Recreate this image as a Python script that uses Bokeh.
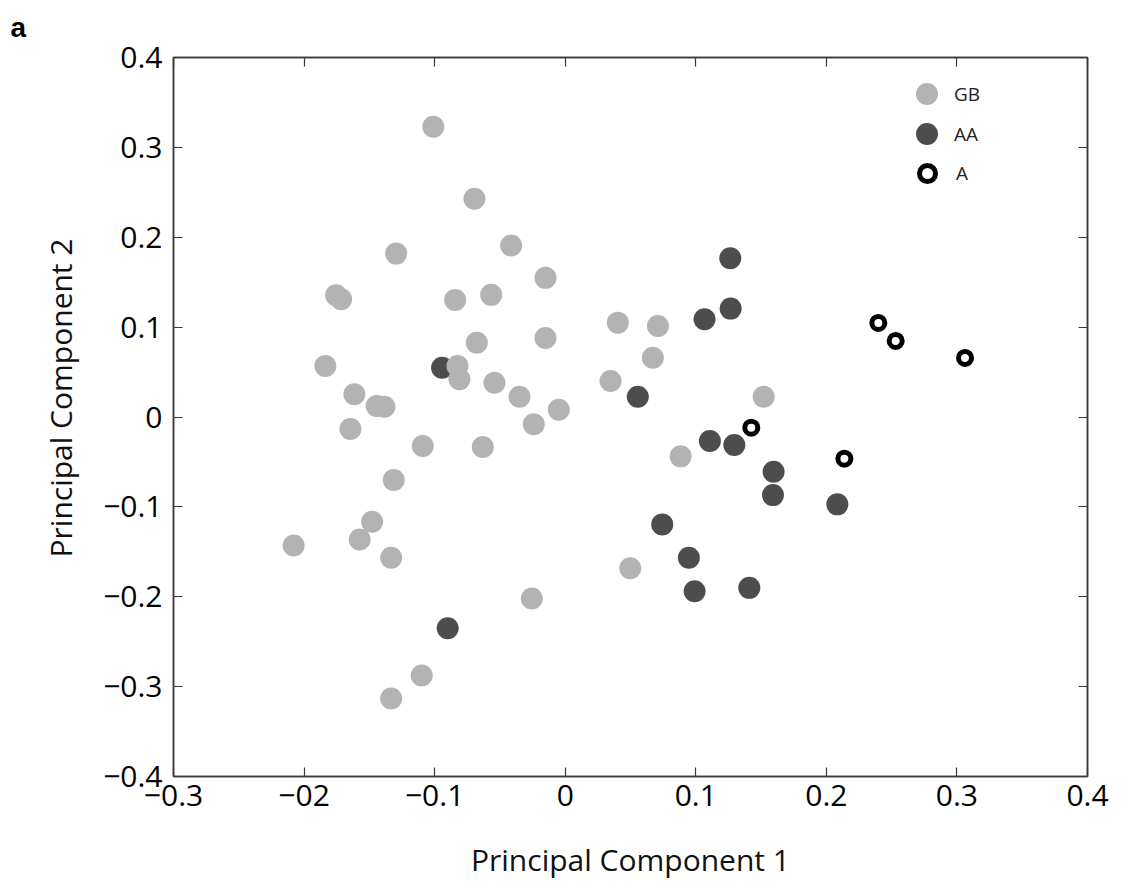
from bokeh.plotting import figure
from bokeh.models import (Range1d, FixedTicker, LinearAxis, Legend, LegendItem, Title,
                          CustomLabelingPolicy)
from bokeh.embed import file_html
from bokeh.resources import INLINE

# ---- data ----
gb_x = [-0.101, -0.0695, -0.1295, -0.1755, -0.1716, -0.0414, -0.0151, -0.0843, -0.0567,
        -0.0151, -0.0677, -0.1837, -0.0825, -0.081, -0.0542, -0.1615, -0.035, -0.1444,
        -0.1385, -0.1645, -0.0049, -0.0241, -0.1091, -0.0631, -0.1313, 0.0403, 0.071,
        0.0671, 0.0347, 0.152, 0.0884, -0.208, -0.1479, -0.1574, -0.1333, -0.0256,
        0.0498, -0.1099, -0.1333]
gb_y = [0.323, 0.2428, 0.1818, 0.1355, 0.1311, 0.1908, 0.1548, 0.1303, 0.1359,
        0.088, 0.0827, 0.0568, 0.0568, 0.042, 0.0382, 0.0253, 0.0226, 0.0122,
        0.0115, -0.0134, 0.0081, -0.0081, -0.0323, -0.0334, -0.0702, 0.105, 0.1013,
        0.066, 0.0401, 0.0226, -0.0438, -0.1429, -0.1166, -0.1362, -0.1567, -0.2019,
        -0.1682, -0.2876, -0.3133]

aa_x = [-0.0943, 0.1264, 0.1067, 0.1267, 0.0556, 0.1108, 0.1295, 0.1596, 0.1591,
        0.2084, 0.0743, 0.0947, 0.0991, 0.141, -0.09]
aa_y = [0.0549, 0.1767, 0.1088, 0.1206, 0.0226, -0.0267, -0.0312, -0.0609, -0.0869,
        -0.0972, -0.1195, -0.1567, -0.1938, -0.1901, -0.235]

a_x = [0.1425, 0.2138, 0.2398, 0.2531, 0.3062]
a_y = [-0.0119, -0.0464, 0.1047, 0.0846, 0.0657]

x_ticks = [-0.3, -0.2, -0.1, 0.0, 0.1, 0.2, 0.3, 0.4]
x_tick_labels = ["\u22120.3", "\u221202", "\u22120.1", "0", "0.1", "0.2", "0.3", "0.4"]
y_ticks = [-0.4, -0.3, -0.2, -0.1, 0.0, 0.1, 0.2, 0.3, 0.4]
y_tick_labels = ["\u22120.4", "\u22120.3", "\u22120.2", "\u22120.1", "0", "0.1", "0.2", "0.3", "0.4"]

series_names = ["GB", "AA", "A"]
x_title = "Principal Component 1"
y_title = "Principal Component  2"
panel_letter = "a"

# ---- styles ----
FONT = "Open Sans"
AX_COLOR = "#3a3a3a"
GB_COLOR = "#b3b3b3"
AA_COLOR = "#4d4d4d"

p = figure(width=1121, height=882, output_backend="svg", toolbar_location=None,
           x_range=Range1d(-0.3, 0.4), y_range=Range1d(-0.4, 0.4),
           min_border_left=173, min_border_right=34, min_border_top=57,
           min_border_bottom=106, x_axis_location=None, y_axis_location=None)
p.grid.visible = False
p.background_fill_color = "white"
p.border_fill_color = "white"
p.outline_line_color = AX_COLOR
p.outline_line_width = 1.5

def style_axis(ax, show_labels):
    ax.axis_line_color = AX_COLOR
    ax.axis_line_width = 1.5
    ax.major_tick_line_color = AX_COLOR
    ax.major_tick_line_width = 1.2
    ax.major_tick_in = 9
    ax.major_tick_out = 0
    ax.minor_tick_line_color = None
    ax.major_label_text_font = FONT
    ax.major_label_text_color = "black"
    if show_labels:
        ax.major_label_text_font_size = "30px"
    else:
        ax.major_label_text_font_size = "1px"
        ax.major_label_standoff = 0
        ax.major_label_policy = CustomLabelingPolicy(code="return new Set()")

xb = LinearAxis(ticker=FixedTicker(ticks=x_ticks))
xb.major_label_overrides = {t: s for t, s in zip(x_ticks, x_tick_labels)}
style_axis(xb, True)
xb.major_label_standoff = 8
xb.axis_label = x_title
xb.axis_label_standoff = 30
xb.axis_label_text_font = FONT
xb.axis_label_text_font_size = "30px"
xb.axis_label_text_font_style = "normal"
xb.axis_label_text_color = "#111111"
p.add_layout(xb, "below")

yl = LinearAxis(ticker=FixedTicker(ticks=y_ticks))
yl.major_label_overrides = {t: s for t, s in zip(y_ticks, y_tick_labels)}
style_axis(yl, True)
yl.major_label_standoff = 11
p.add_layout(yl, "left")

xt = LinearAxis(ticker=FixedTicker(ticks=x_ticks))
style_axis(xt, False)
p.add_layout(xt, "above")

yr = LinearAxis(ticker=FixedTicker(ticks=y_ticks))
style_axis(yr, False)
p.add_layout(yr, "right")

r_aa = p.scatter(aa_x, aa_y, size=22, marker="circle", fill_color=AA_COLOR, line_color=None)
r_gb = p.scatter(gb_x, gb_y, size=22, marker="circle", fill_color=GB_COLOR, line_color=None)
r_a = p.scatter(a_x, a_y, size=13, marker="circle", fill_color="white",
                line_color="black", line_width=5)

def make_legend(label, renderer, loc, glyph, standoff):
    return Legend(items=[LegendItem(label=label, renderers=[renderer])],
                  location=loc, glyph_width=glyph, glyph_height=glyph,
                  padding=0, margin=0, label_standoff=standoff, border_line_color=None,
                  background_fill_alpha=0, label_text_font=FONT,
                  label_text_font_size="19px", label_text_color="#222222")

p.add_layout(make_legend(series_names[0], r_gb, (726, 655), 55, 0), "center")
p.add_layout(make_legend(series_names[1], r_aa, (726, 615), 55, 0), "center")
p.add_layout(make_legend(series_names[2], r_a, (734, 583), 40, 9), "center")

p.add_layout(Title(text=y_title, align="left", offset=219, standoff=40,
                   vertical_align="bottom", text_font=FONT, text_font_size="30px",
                   text_font_style="normal", text_color="#111111"), "left")
p.add_layout(Title(text=panel_letter, align="left", offset=-163, standoff=16,
                   vertical_align="top", text_font="Liberation Sans", text_font_size="28px",
                   text_font_style="bold", text_color="black"), "above")

open("out.html", "w").write(file_html(p, INLINE))
